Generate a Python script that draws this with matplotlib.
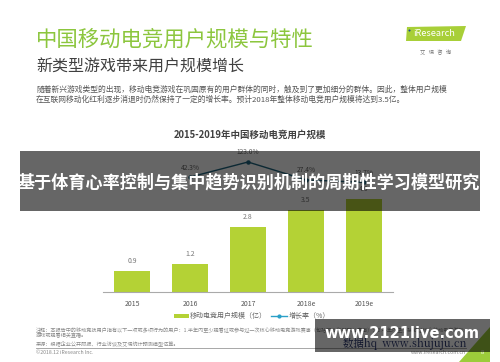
import matplotlib
matplotlib.use("Agg")
import matplotlib.pyplot as plt
from matplotlib.patches import Rectangle, Polygon

plt.rcParams['font.family'] = ['Noto Sans CJK SC', 'DejaVu Sans']

years = ["2015", "2016", "2017", "2018e", "2019e"]
users = [0.9, 1.2, 2.8, 3.5, 4.0]
growth_years = ["2016", "2017", "2018e", "2019e"]
growth = [42.3, 123.0, 27.4, 13.7]

W, H = 500, 362
fig = plt.figure(figsize=(5, 3.62), dpi=100)
fig.patch.set_facecolor('white')

def fx(x):
    return x / W

def fy(y):
    return 1 - y / H

def ftext(x, y, s, **kw):
    kw.setdefault('va', 'center')
    return fig.text(fx(x), fy(y), s, **kw)

# Header
ftext(36, 40, "中国移动电竞用户规模与特性", fontsize=15.4, color='#8cc63e')
ftext(36, 67, "新类型游戏带来用户规模增长", fontsize=11.5, color='#404040')
ftext(36, 90, "随着新兴游戏类型的出现，移动电竞游戏在巩固原有的用户群体的同时，触及到了更加细分的群体。因此，整体用户规模",
      fontsize=5.6, color='#555555')
ftext(36, 100, "在互联网移动化红利逐步消退时仍然保持了一定的增长率。预计2018年整体移动电竞用户规模将达到3.5亿。",
      fontsize=5.6, color='#555555')

# Logo
fig.add_artist(Polygon([(fx(407), fy(27)), (fx(466), fy(26)), (fx(461), fy(41)), (fx(406), fy(41))],
                       closed=True, transform=fig.transFigure, facecolor='#a8cf38', edgecolor='none'))
ftext(434, 34, "iResearch", fontsize=6.6, color='white', ha='center')
fig.add_artist(plt.Line2D([fx(409)], [fy(30)], transform=fig.transFigure, marker='o', markersize=1.5,
                          color='#1f4e8c', markeredgewidth=0))
ftext(436, 52, "艾   瑞   咨   询", fontsize=3.8, color='#777777', ha='center')

# Chart title
ftext(250, 135, "2015-2019年中国移动电竞用户规模", fontsize=6.8, color='#404040', ha='center', fontweight='bold')

# Bar axes
x_left, x_right, y_top, y_base = 103, 393, 140, 292
ax = fig.add_axes([fx(x_left), fy(y_base), (x_right - x_left) / W, (y_base - y_top) / H])
ax.set_facecolor('none')
px_per_unit = 23.3
ax.set_ylim(0, (y_base - y_top) / px_per_unit)
ax.set_xlim(-0.5, len(years) - 0.5)
xs = list(range(len(years)))
ax.bar(xs, users, width=0.63, color='#b4d235', zorder=2)
for x, v in zip(xs, users):
    ax.annotate(f"{v}", (x, v), xytext=(0, 4.5), textcoords='offset points', ha='center', va='bottom',
                fontsize=5, color='#777777')
for s in ['top', 'left', 'right']:
    ax.spines[s].set_visible(False)
ax.spines['bottom'].set_color('#aaaaaa')
ax.spines['bottom'].set_linewidth(0.8)
ax.set_yticks([])
ax.set_xticks(xs)
ax.set_xticklabels(years, fontsize=5, color='#555555')
ax.tick_params(axis='x', length=0, pad=6)

# Growth line axes
ax2 = ax.twinx()
ax2.set_facecolor('none')
zero_y, px_per_pct = 185, 0.187
ax2.set_ylim(-(y_base - zero_y) / px_per_pct, (zero_y - y_top) / px_per_pct)
gx = [years.index(y) for y in growth_years]
ax2.plot(gx, growth, color='#1f6680', linewidth=1.0, marker='o', markersize=2.2, zorder=3)
for x, v in zip(gx, growth):
    ax2.annotate(f"{v:.1f}%", (x, v), xytext=(0, 4), textcoords='offset points', ha='center', va='bottom',
                 fontsize=4.8, color='#666666')
ax2.axis('off')

# Legend
fig.add_artist(Rectangle((fx(174), fy(318)), 15 / W, 4 / H, transform=fig.transFigure,
                         facecolor='#b4d235', edgecolor='none'))
ftext(190, 316, "移动电竞用户规模（亿）", fontsize=5, color='#666666')
fig.add_artist(plt.Line2D([fx(271), fx(287)], [fy(316), fy(316)], transform=fig.transFigure,
                          color='#2aa0c8', linewidth=1.0))
fig.add_artist(plt.Line2D([fx(279)], [fy(316)], transform=fig.transFigure, marker='o', markersize=2,
                          color='#2aa0c8'))
ftext(289, 316, "增长率（%）", fontsize=5, color='#666666')

# Footnotes
note_kw = dict(fontsize=3.7, color='#888888')
ftext(36, 330, "注释：本报告中的移动竞技用户指有以下一项或多项行为的用户：1.半年内至少观看过或参与过一次核心移动电竞游戏赛事（包括职业和非职业赛事）；2.半年内至少接触过核心移动电竞游戏", **note_kw)
ftext(36, 336, "游戏或观看相关直播。", **note_kw)
ftext(36, 343, "来源：根据企业公开财报、行业访谈及艾瑞统计预测模型估算。", **note_kw)
fig.add_artist(plt.Line2D([fx(36), fx(466)], [fy(347.5), fy(347.5)], transform=fig.transFigure,
                          color='#999999', linewidth=0.6))
ftext(36, 353, "©2018.12 iResearch Inc.", **note_kw)
ftext(466, 353, "www.iresearch.com.cn", ha='right', **note_kw)

# Corner triangle
fig.add_artist(Polygon([(fx(490), fy(327)), (fx(490), fy(362)), (fx(459), fy(362))], closed=True,
                       transform=fig.transFigure, facecolor='#9ccc3a', edgecolor='none'))
ftext(482, 353, "8", fontsize=4, color='white', ha='center')

# Watermark text under overlay
ftext(405, 344, "数据hq  www.shujuju.cn", fontsize=7.5, color='#23306a', ha='center',
      family=['Noto Serif CJK SC', 'DejaVu Serif'])

# Overlays
fig.add_artist(Rectangle((fx(20), fy(211)), 460 / W, 60 / H, transform=fig.transFigure,
                         facecolor='black', alpha=0.6, edgecolor='none', zorder=5))
t = ftext(249, 182, "基于体育心率控制与集中趋势识别机制的周期性学习模型研究", fontsize=12.3, color='white',
          ha='center', fontweight='bold')
t.set_zorder(6)

fig.add_artist(Rectangle((fx(315), fy(352)), 175 / W, 33 / H, transform=fig.transFigure,
                         facecolor='black', alpha=0.6, edgecolor='none', zorder=5))
t2 = ftext(402, 334, "www.2121live.com", fontsize=10.5, color='white', ha='center', fontweight='bold',
           family=['DejaVu Sans'])
t2.set_zorder(6)

fig.savefig("out.png", dpi=100)
